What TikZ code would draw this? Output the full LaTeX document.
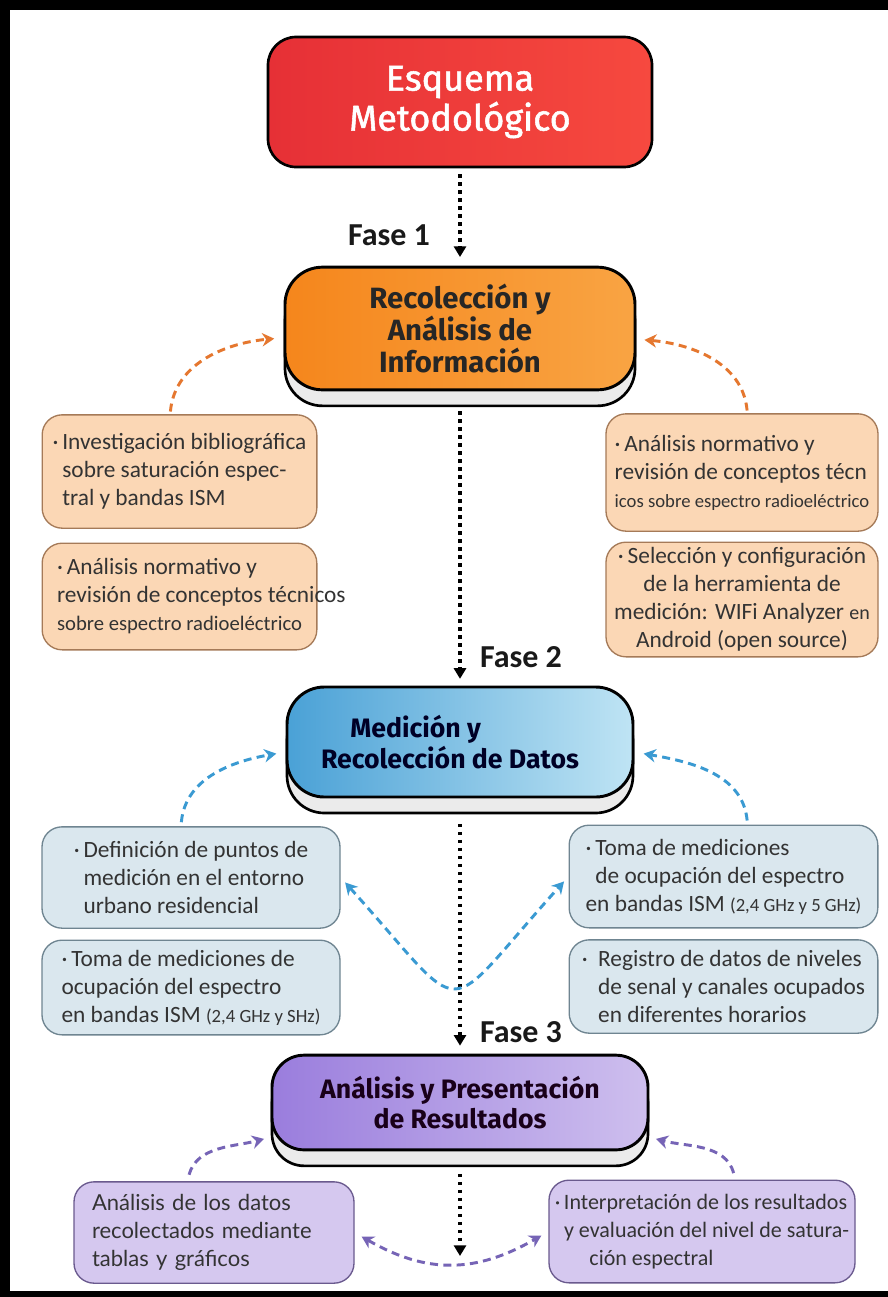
\documentclass[tikz,border=0pt]{standalone}
\usepackage{fontspec}
\setmainfont{Carlito}
\newfontfamily\headfont{Fira Sans}
\newfontfamily\titlefont{Fira Sans}[FakeBold=1.5]
\newfontfamily\notefont{Lato}
\usetikzlibrary{arrows.meta,shadows}

\definecolor{titlered}{HTML}{E63036}
\definecolor{titlered2}{HTML}{F6493F}
\definecolor{infoorange}{HTML}{F5861C}
\definecolor{infoorange2}{HTML}{F9A443}
\definecolor{datblue}{HTML}{4AA1D6}
\definecolor{datblue2}{HTML}{BFE4F4}
\definecolor{respurple}{HTML}{9A7DDD}
\definecolor{respurple2}{HTML}{CEBFEE}
\definecolor{peach}{HTML}{FBD7B5}
\definecolor{peachline}{HTML}{A57A58}
\definecolor{paleblue}{HTML}{DAE7EE}
\definecolor{paleblueline}{HTML}{6F8591}
\definecolor{lilac}{HTML}{D5C8EF}
\definecolor{lilacline}{HTML}{6A5A8E}
\definecolor{arrorange}{HTML}{E5772F}
\definecolor{arrblue}{HTML}{3A9AD2}
\definecolor{arrpurple}{HTML}{7664B6}
\definecolor{inktext}{HTML}{333333}

\newcommand{\bulgap}{\phantom{·\,}}
\newcommand{\ghz}[1]{{\fontsize{14}{21}\selectfont #1}}

\tikzset{
  head/.style={draw=black, line width=2pt, rounded corners=21pt, align=center,
    text=white, font=\titlefont\fontsize{27}{30}\selectfont},
  phase/.style={draw=black, line width=2.2pt, rounded corners=28pt, align=center,
    general shadow={shadow yshift=-12pt, fill=black!8, draw=black, line width=2pt},
    font=\headfont\bfseries},
  note/.style={line width=1pt, rounded corners=15pt, align=left, inner sep=2pt,
    text=inktext, font=\fontsize{17.5}{21}\selectfont},
  orangenote/.style={note, fill=peach, draw=peachline},
  bluenote/.style={note, fill=paleblue, draw=paleblueline},
  purplenote/.style={note, fill=lilac, draw=lilacline},
  flow/.style={black, line width=2.4pt, dash pattern=on 2.4pt off 3.6pt,
    -{Triangle[length=8pt,width=9pt]}},
  feedback/.style={line width=2.2pt, dash pattern=on 6pt off 4pt,
    -{Stealth[length=9pt,width=10pt]}},
  twoway/.style={feedback, {Stealth[length=9pt,width=10pt]}-{Stealth[length=9pt,width=10pt]}},
  fase/.style={font=\fontsize{24}{26}\selectfont\bfseries, text=black!90}
}

\begin{document}
\begin{tikzpicture}[x=0.75pt,y=0.75pt]
  \useasboundingbox (0,0) rectangle (888,-1297);
  \fill[white] (0,0) rectangle (888,-1297);
  % Frame
  \fill[black] (0,0) rectangle (888,-10);
  \fill[black] (0,0) rectangle (10,-1297);
  \fill[black] (0,-1291) rectangle (888,-1297);

  % Phases
  \node[head, left color=titlered, right color=titlered2,
    minimum width=288pt, minimum height=97.5pt] (title) at (460,-102) {Esquema\\Metodológico};
  \node[phase, left color=infoorange, right color=infoorange2, text=black!85,
    font=\headfont\bfseries\fontsize{22}{24}\selectfont,
    minimum width=262.5pt, minimum height=92pt] (info) at (460,-328.5)
    {Recolección y\\Análisis de\\Información};
  \node[phase, left color=datblue, right color=datblue2, text=black!85!blue,
    font=\headfont\bfseries\fontsize{20}{23}\selectfont, align=left,
    minimum width=259.5pt, minimum height=82.5pt] (datos) at (460,-742)
    {\hspace*{22pt}Medición y\\Recolección de Datos\hspace*{15pt}};
  \node[phase, left color=respurple, right color=respurple2, text=black!80!violet,
    font=\headfont\bfseries\fontsize{20}{22.5}\selectfont, rounded corners=24pt,
    minimum width=282pt, minimum height=71pt] (result) at (460,-1102.5)
    {Análisis y Presentación\\de Resultados};

  % Fase 1 notes
  \node[orangenote, minimum width=206pt, minimum height=85pt] (oL1) at (179.5,-471.5)
    {·\,Investigación bibliográfica\\\bulgap sobre saturación espec-\\\bulgap tral y bandas ISM};
  \node[orangenote, minimum width=206pt, minimum height=80pt] (oL2) at (179.5,-596.5)
    {·\,Análisis normativo y\\\rlap{revisión de conceptos técnicos}\\{\fontsize{15.5}{21}\selectfont sobre espectro radioeléctrico}};
  \node[orangenote, minimum width=204pt, minimum height=88pt] (oR1) at (742,-472.5)
    {·\,Análisis normativo y\\revisión de conceptos técn\\{\fontsize{14}{21}\selectfont icos sobre espectro radioeléctrico}};
  \node[orangenote, align=center, minimum width=204pt, minimum height=86pt] (oR2) at (742,-599.5)
    {·\,Selección y configuración\\de la herramienta de\\medición: WIFi Analyzer {\fontsize{15}{21}\selectfont en}\\Android (open source)};

  % Fase 2 notes
  \node[bluenote, minimum width=223.5pt, minimum height=76pt] (bL1) at (191,-877.5)
    {·\,Definición de puntos de\\\bulgap medición en el entorno\\\bulgap urbano residencial};
  \node[bluenote, minimum width=223.5pt, minimum height=71pt] (bL2) at (191,-987.5)
    {·\,Toma de mediciones de\\ocupación del espectro\\en bandas ISM \ghz{(2,4 GHz y SHz)}};
  \node[bluenote, minimum width=231.5pt, minimum height=77pt] (bR1) at (723.5,-876.5)
    {·\,Toma de mediciones\\\bulgap de ocupación del espectro\\en bandas ISM \ghz{(2,4 GHz y 5 GHz)}};
  \node[bluenote, minimum width=231.5pt, minimum height=70pt] (bR2) at (723.5,-986.5)
    {·\;\,Registro de datos de niveles\\\bulgap\;de senal y canales ocupados\\\bulgap\;en diferentes horarios};

  % Fase 3 notes
  \node[purplenote, font=\notefont\fontsize{16.5}{21}\selectfont, inner xsep=13.5pt, text width=183pt,
    minimum height=76pt] (pL) at (214,-1232.5)
    {Análisis de los datos\\recolectados mediante\\tablas y gráficos};
  \node[purplenote, font=\fontsize{16.5}{21}\selectfont, minimum width=229.5pt, minimum height=77pt] (pR) at (702,-1231.5)
    {·\,Interpretación de los resultados\\\bulgap y evaluación del nivel de satura-\\\hspace*{26pt}ción espectral};

  % Main flow
  \draw[flow, shorten <=4.5pt, shorten >=6.5pt] (title.south) -- (info.north);
  \draw[flow, shorten <=15pt, shorten >=5pt] (info.south) -- (datos.north);
  \draw[flow, shorten <=19pt, shorten >=6pt] (datos.south) -- (result.north);
  \coordinate (tail) at (460,-1256);
  \draw[flow, shorten <=17pt] (result.south) -- (tail);
  \node[fase] (f1) at (389,-235) {Fase 1};
  \node[fase] (f2) at (521,-657) {Fase 2};
  \node[fase] (f3) at (521,-1032) {Fase 3};

  % Feedback arrows
  \draw[feedback, arrorange, shorten <=2pt, shorten >=7pt]
    ([xshift=-7pt]oL1.north) to[out=85,in=185] ([yshift=-7pt]info.west);
  \draw[feedback, arrorange, shorten <=2pt, shorten >=6pt]
    ([xshift=4pt]oR1.north) to[out=95,in=-5] ([yshift=-8pt]info.east);
  \draw[feedback, arrblue, shorten <=3pt, shorten >=7pt]
    ([xshift=-7.5pt]bL1.north) to[out=85,in=190] ([yshift=-7.5pt]datos.west);
  \draw[feedback, arrblue, shorten <=3pt, shorten >=7pt]
    ([xshift=18pt]bR1.north) to[out=95,in=-10] ([yshift=-7.5pt]datos.east);
  \draw[twoway, arrblue, shorten <=5pt, shorten >=5pt]
    (bL1.east) to[out=-48,in=-132,looseness=2.2] (bR1.west);
  \draw[feedback, arrpurple, shorten <=5pt, shorten >=5pt]
    ([xshift=-20pt]pL.north) to[out=75,in=195] ([yshift=-26pt]result.west);
  \draw[feedback, arrpurple, shorten <=5pt, shorten >=5pt]
    ([xshift=25pt]pR.north) to[out=105,in=-15] ([yshift=-26pt]result.east);
  \draw[twoway, arrpurple, shorten <=6pt, shorten >=6pt]
    (pL.east) to[out=-30,in=-150,looseness=1.1] (pR.west);
\end{tikzpicture}
\end{document}
